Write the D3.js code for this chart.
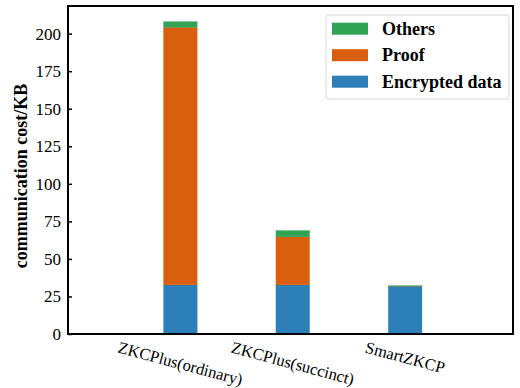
<!DOCTYPE html>
<html>
<head>
<meta charset="utf-8">
<script src="https://cdn.jsdelivr.net/npm/d3@7/dist/d3.min.js"></script>
<style>
  html, body { margin: 0; padding: 0; background: #fff; }
  svg { display: block; }
  text { font-family: "Liberation Serif", "DejaVu Serif", serif; fill: #000; }
</style>
</head>
<body>
<svg id="chart" width="520" height="388"></svg>
<script>
// Communication cost per scheme, stacked by component (KB)
const categories = ["ZKCPlus(ordinary)", "ZKCPlus(succinct)", "SmartZKCP"];
const encryptedData = [32.7, 32.7, 31.8];
const proof = [171.5, 32.0, 0.1];
const others = [3.8, 4.2, 0.3];
const yTicks = [0, 25, 50, 75, 100, 125, 150, 175, 200];

const seriesNames = ["Encrypted data", "Proof", "Others"];
const seriesColors = ["#2c7fb8", "#d95f0e", "#31a354"];
const seriesValues = [encryptedData, proof, others];

const svg = d3.select("#chart");
const plot = { left: 68, right: 513, top: 6, bottom: 334 };

const x = d3.scaleLinear().domain([-1, 2.96]).range([plot.left, plot.right]);
const y = d3.scaleLinear().domain([0, 218.4]).range([plot.bottom, plot.top]);
const barWidth = 0.3;

// stacked layout
const rows = categories.map((c, i) => {
  const r = { category: c, index: i };
  seriesNames.forEach((s, k) => { r[s] = seriesValues[k][i]; });
  return r;
});
const stack = d3.stack().keys(seriesNames)(rows);

const bars = svg.append("g");
stack.forEach((layer, k) => {
  bars.selectAll(null)
    .data(layer)
    .enter().append("rect")
    .attr("x", d => x(d.data.index - barWidth / 2))
    .attr("width", d => x(d.data.index + barWidth / 2) - x(d.data.index - barWidth / 2))
    .attr("y", d => y(d[1]))
    .attr("height", d => y(d[0]) - y(d[1]))
    .attr("fill", seriesColors[k])
    .attr("stroke", seriesColors[k])
    .attr("stroke-opacity", 0.35)
    .attr("stroke-width", 0.8);
});

// y axis with inward ticks
const yAxis = d3.axisLeft(y).tickValues(yTicks).tickSize(-4).tickPadding(7).tickFormat(d3.format("d"));
const gy = svg.append("g").attr("transform", `translate(${plot.left},0)`).call(yAxis);
gy.select(".domain").remove();
gy.selectAll(".tick line").attr("stroke", "#000").attr("stroke-width", 1.5);
gy.selectAll(".tick text").style("font-size", "17px").attr("fill", "#000");

// category labels, rotated and centred under each bar
const labelTop = 339;
const angle = 15;
const rad = angle * Math.PI / 180;
const labelSize = 16.5;
categories.forEach((c, i) => {
  const t = svg.append("text")
    .attr("text-anchor", "middle")
    .attr("dominant-baseline", "central")
    .style("font-size", labelSize + "px")
    .text(c);
  const w = t.node().getComputedTextLength();
  const h = labelSize;
  const cy = labelTop + (w * Math.sin(rad) + h * Math.cos(rad)) / 2;
  t.attr("transform", `translate(${x(i)},${cy}) rotate(${angle})`);
});

// frame
svg.append("rect")
  .attr("x", plot.left).attr("y", plot.top)
  .attr("width", plot.right - plot.left).attr("height", plot.bottom - plot.top)
  .attr("fill", "none").attr("stroke", "#000").attr("stroke-width", 2);

// y axis title
svg.append("text")
  .attr("transform", `translate(21,${(plot.top + plot.bottom) / 2 + 6}) rotate(-90)`)
  .attr("text-anchor", "middle")
  .attr("dominant-baseline", "central")
  .style("font-size", "18px")
  .style("font-weight", "bold")
  .text("communication cost/KB");

// legend (top series listed first)
const legend = svg.append("g");
legend.append("rect")
  .attr("x", 326).attr("y", 15).attr("width", 183).attr("height", 84)
  .attr("rx", 3).attr("fill", "#fff").attr("fill-opacity", 0.8)
  .attr("stroke", "#d9d9d9").attr("stroke-width", 1);
const legendOrder = [2, 1, 0];
legendOrder.forEach((k, j) => {
  const cy = 28.7 + j * 26.5;
  legend.append("rect")
    .attr("x", 332).attr("y", cy - 6).attr("width", 36).attr("height", 12)
    .attr("fill", seriesColors[k]);
  legend.append("text")
    .attr("x", 382).attr("y", cy)
    .attr("dominant-baseline", "central")
    .style("font-size", "18px")
    .style("font-weight", "bold")
    .text(seriesNames[k]);
});
</script>
</body>
</html>
